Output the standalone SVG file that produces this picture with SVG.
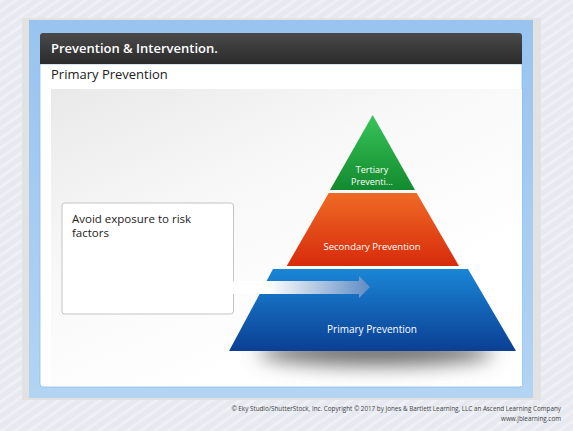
<svg xmlns="http://www.w3.org/2000/svg" width="573" height="431" viewBox="0 0 573 431">
<defs>
<style>
.t{font-family:"Open Sans","Noto Sans",sans-serif}
.w{fill:#ffffff}
</style>
<pattern id="stripes" width="8" height="8" patternUnits="userSpaceOnUse" patternTransform="rotate(-35)">
<rect width="8" height="8" fill="#e6e9f0"/>
<rect width="8" height="3" fill="#eef0f5"/>
</pattern>
<linearGradient id="frame" x1="0" y1="0" x2="0" y2="1">
<stop offset="0" stop-color="#98c4ef"/>
<stop offset="1" stop-color="#b3d4f3"/>
</linearGradient>
<linearGradient id="hdr" x1="0" y1="0" x2="0" y2="1">
<stop offset="0" stop-color="#4a4a4a"/>
<stop offset="1" stop-color="#2a2a2a"/>
</linearGradient>
<linearGradient id="panel" x1="0" y1="0" x2="0.6" y2="0.8">
<stop offset="0" stop-color="#e9e9e9"/>
<stop offset="0.5" stop-color="#f8f8f8"/>
<stop offset="1" stop-color="#ffffff"/>
</linearGradient>
<linearGradient id="green" x1="0" y1="0" x2="0" y2="1">
<stop offset="0" stop-color="#37c45a"/>
<stop offset="1" stop-color="#138a2e"/>
</linearGradient>
<linearGradient id="orange" x1="0" y1="0" x2="0" y2="1">
<stop offset="0" stop-color="#ef6a25"/>
<stop offset="1" stop-color="#d72b0c"/>
</linearGradient>
<linearGradient id="blue" x1="0" y1="0" x2="0" y2="1">
<stop offset="0" stop-color="#1a86d6"/>
<stop offset="1" stop-color="#0b3f94"/>
</linearGradient>
<linearGradient id="arrow" x1="234" y1="0" x2="370" y2="0" gradientUnits="userSpaceOnUse">
<stop offset="0.25" stop-color="#ffffff"/>
<stop offset="1" stop-color="#5f8cc4"/>
</linearGradient>
<filter id="blur" x="-30%" y="-200%" width="160%" height="500%">
<feGaussianBlur stdDeviation="10"/>
</filter>
</defs>
<rect width="573" height="431" fill="url(#stripes)"/>
<rect x="22" y="18" width="519" height="382" fill="#e2e2e2"/>
<rect x="29" y="20" width="504" height="378" fill="url(#frame)"/>
<g id="slide">
<path d="M40,64 H522 V384 a3,3 0 0 1 -3,3 H43 a3,3 0 0 1 -3,-3 Z" fill="#ffffff" stroke="#8fbdea" stroke-width="0.8"/>
<path d="M40,64 V36 a3,3 0 0 1 3,-3 H519 a3,3 0 0 1 3,3 V64 Z" fill="url(#hdr)"/>
<text class="t" x="51" y="53" font-size="13" font-weight="600" fill="#ffffff">Prevention &amp; Intervention.</text>
<text class="t" x="51" y="79" font-size="13" fill="#222">Primary Prevention</text>
<rect x="51" y="89" width="471" height="297" fill="url(#panel)"/>
</g>
<g id="shadow-g">
<ellipse cx="376" cy="352" rx="118" ry="13" fill="#666" filter="url(#blur)"/>
</g>
<g id="tertiary">
<polygon points="372.7,115 415,190 330,190" fill="url(#green)"/>
<text class="t w" x="372" y="173" font-size="9" text-anchor="middle">Tertiary</text>
<text class="t w" x="372" y="185" font-size="9" text-anchor="middle">Preventi...</text>
</g>
<g id="secondary">
<polygon points="328.7,193 416.7,193 459,266 286.7,266" fill="url(#orange)"/>
<text class="t w" x="372" y="250" font-size="9.5" text-anchor="middle">Secondary Prevention</text>
</g>
<g id="primary">
<polygon points="273,269 468,269 516,351 229,351" fill="url(#blue)"/>
<text class="t w" x="372" y="333" font-size="10" text-anchor="middle">Primary Prevention</text>
</g>
<g id="connectors">
<polygon points="233,281 359,281 359,276 370,287 359,298 359,294 233,294" fill="url(#arrow)"/>
</g>
<g id="box">
<path d="M233.5,281 V206 a3,3 0 0 0 -3,-3 H65 a3,3 0 0 0 -3,3 V311 a3,3 0 0 0 3,3 H230.5 a3,3 0 0 0 3,-3 V294" fill="#ffffff" stroke="#c4c4c4" stroke-width="1"/>
<text class="t" x="72" y="223" font-size="11.5" fill="#222">Avoid exposure to risk</text>
<text class="t" x="72" y="237" font-size="11.5" fill="#222">factors</text>
</g>
<g id="footer">
<text class="t" x="561" y="411" font-size="6.3" fill="#444" text-anchor="end">© Eky Studio/ShutterStock, Inc. Copyright © 2017 by Jones &amp; Bartlett Learning, LLC an Ascend Learning Company</text>
<text class="t" x="561" y="421" font-size="6.3" fill="#444" text-anchor="end">www.jblearning.com</text>
</g>
</svg>
